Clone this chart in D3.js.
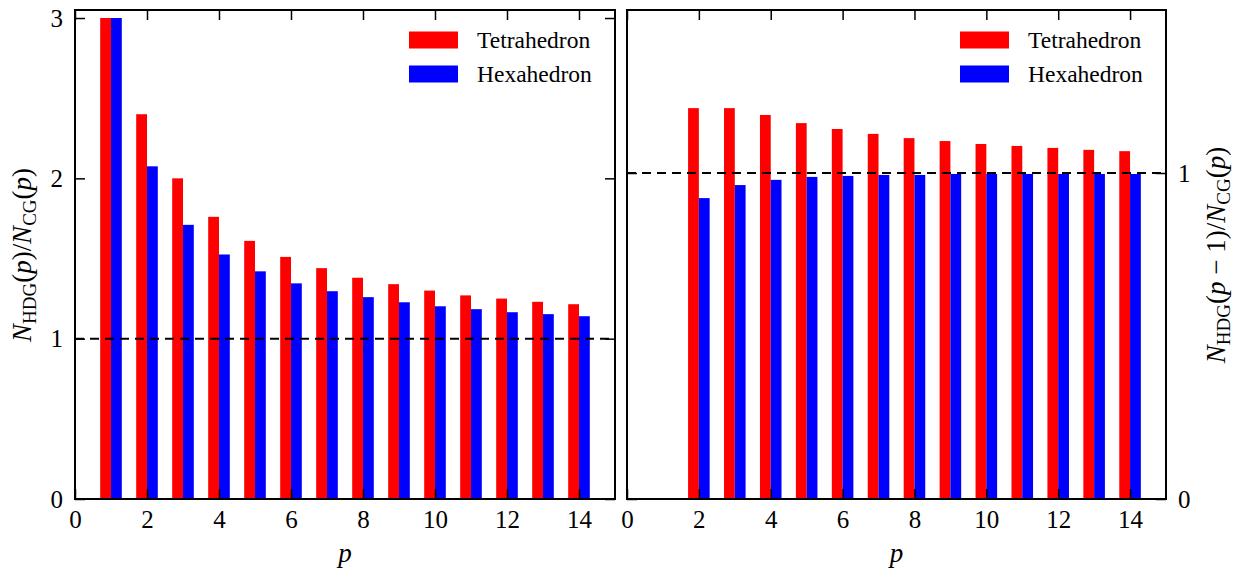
<!DOCTYPE html>
<html><head><meta charset="utf-8">
<script src="https://cdn.jsdelivr.net/npm/d3@7"></script>
<style>
body{margin:0;background:#fff}
text{font-family:"Liberation Serif","Times New Roman",serif;fill:#000}
</style>
</head><body>
<svg id="c" width="1237" height="572"></svg>
<script>
// ---- data ----
const seriesNames = ["Tetrahedron", "Hexahedron"];
const seriesColors = ["#ff0000", "#0000ff"];

const pLeft = [1,2,3,4,5,6,7,8,9,10,11,12,13,14];
const tetraLeft = [3.00,2.40,2.00,1.76,1.61,1.51,1.44,1.38,1.34,1.30,1.27,1.25,1.23,1.215];
const hexaLeft  = [3.00,2.075,1.71,1.525,1.42,1.345,1.296,1.259,1.227,1.202,1.184,1.165,1.153,1.14];

const pRight = [2,3,4,5,6,7,8,9,10,11,12,13,14];
const tetraRight = [1.199,1.199,1.178,1.153,1.135,1.120,1.107,1.098,1.089,1.083,1.077,1.071,1.067];
const hexaRight  = [0.923,0.963,0.979,0.988,0.991,0.994,0.994,0.997,0.997,0.997,0.997,0.997,0.997];

const xTicks = [0,2,4,6,8,10,12,14];
const yTicksLeft = [0,1,2,3];
const yTicksRight = [0,1];

// ---- layout ----
const svg = d3.select("#c");
const FS = 25, LFS = 23.5;
const yTop = 10, yBottom = 499;
const panels = [
  {x0:75, x1:615, yMax:3.05, p:pLeft, s:[tetraLeft,hexaLeft], yTicks:yTicksLeft, labelSide:"left"},
  {x0:627, x1:1166, yMax:1.5, p:pRight, s:[tetraRight,hexaRight], yTicks:yTicksRight, labelSide:"right"}
];

panels.forEach((P, pi) => {
  const x = d3.scaleLinear().domain([0,15]).range([P.x0, P.x1]);
  const y = d3.scaleLinear().domain([0,P.yMax]).range([yBottom, yTop]);
  const g = svg.append("g");
  const bw = x(0.3) - x(0);

  // bars
  P.s.forEach((vals, si) => {
    g.selectAll(null).data(P.p.map((p,i)=>({p, v:vals[i]}))).enter()
      .append("rect")
      .attr("x", d => si === 0 ? x(d.p - 0.3) : x(d.p))
      .attr("width", bw)
      .attr("y", d => y(d.v))
      .attr("height", d => y(0) - y(d.v))
      .attr("fill", seriesColors[si]);
  });

  // reference dashed line at 1
  g.append("line")
    .attr("x1", x(0)).attr("x2", x(15))
    .attr("y1", y(1)).attr("y2", y(1))
    .attr("stroke", "#000").attr("stroke-width", 2)
    .attr("stroke-dasharray", "9,6");

  const styleAxis = (sel, showLabels) => {
    sel.select(".domain").remove();
    sel.selectAll(".tick line").attr("stroke","#000").attr("stroke-width",1.5);
    sel.selectAll(".tick text").attr("font-size", FS).attr("font-family", '"Liberation Serif",serif');
    if (!showLabels) sel.selectAll(".tick text").remove();
  };

  // bottom axis
  g.append("g").attr("transform", `translate(0,${yBottom})`)
    .call(d3.axisBottom(x).tickValues(xTicks).tickSizeInner(-10).tickSizeOuter(0).tickPadding(11))
    .call(s => styleAxis(s, true));
  // top axis
  g.append("g").attr("transform", `translate(0,${yTop})`)
    .call(d3.axisTop(x).tickValues(xTicks).tickSizeInner(-10).tickSizeOuter(0))
    .call(s => styleAxis(s, false));
  // left axis
  g.append("g").attr("transform", `translate(${P.x0},0)`)
    .call(d3.axisLeft(y).tickValues(P.yTicks).tickFormat(d3.format("d")).tickSizeInner(-10).tickSizeOuter(0).tickPadding(12))
    .call(s => styleAxis(s, P.labelSide === "left"));
  // right axis
  g.append("g").attr("transform", `translate(${P.x1},0)`)
    .call(d3.axisRight(y).tickValues(P.yTicks).tickFormat(d3.format("d")).tickSizeInner(-10).tickSizeOuter(0).tickPadding(12))
    .call(s => styleAxis(s, P.labelSide === "right"));

  // frame
  g.append("rect").attr("x", P.x0).attr("y", yTop)
    .attr("width", P.x1 - P.x0).attr("height", yBottom - yTop)
    .attr("fill","none").attr("stroke","#000").attr("stroke-width",2);

  // legend
  const lg = g.append("g").attr("transform", `translate(${P.x1 - 206},0)`);
  seriesNames.forEach((name, i) => {
    const cy = 40 + i*34;
    lg.append("rect").attr("x",0).attr("y",cy-8.5).attr("width",49).attr("height",17)
      .attr("fill", seriesColors[i]);
    lg.append("text").attr("x",68).attr("y",cy).attr("dy","0.34em")
      .attr("font-size", LFS).text(name);
  });

  // x label
  g.append("text").attr("x", (P.x0+P.x1)/2).attr("y", 562)
    .attr("text-anchor","middle").attr("font-size", 27).attr("font-style","italic").text("p");
});

// y labels with math-like formatting
function mathLabel(cx, cy, parts) {
  const t = svg.append("text")
    .attr("transform", `translate(${cx},${cy}) rotate(-90)`)
    .attr("text-anchor","middle").attr("font-size", 27);
  let shift = 0;
  parts.forEach(([str, kind]) => {
    const ts = t.append("tspan").text(str);
    if (kind === "i") ts.attr("font-style","italic");
    if (kind === "sub") {
      ts.attr("font-size", 19).attr("dy", 5 - shift);
      shift = 5;
    } else {
      ts.attr("dy", -shift);
      shift = 0;
    }
  });
}
mathLabel(31, 255, [["N","i"],["HDG","sub"],["(",""],["p","i"],[")/",""],["N","i"],["CG","sub"],["(",""],["p","i"],[")",""]]);
mathLabel(1225, 255, [["N","i"],["HDG","sub"],["(",""],["p","i"],[" \u2212 1)/",""],["N","i"],["CG","sub"],["(",""],["p","i"],[")",""]]);
</script>
</body></html>
